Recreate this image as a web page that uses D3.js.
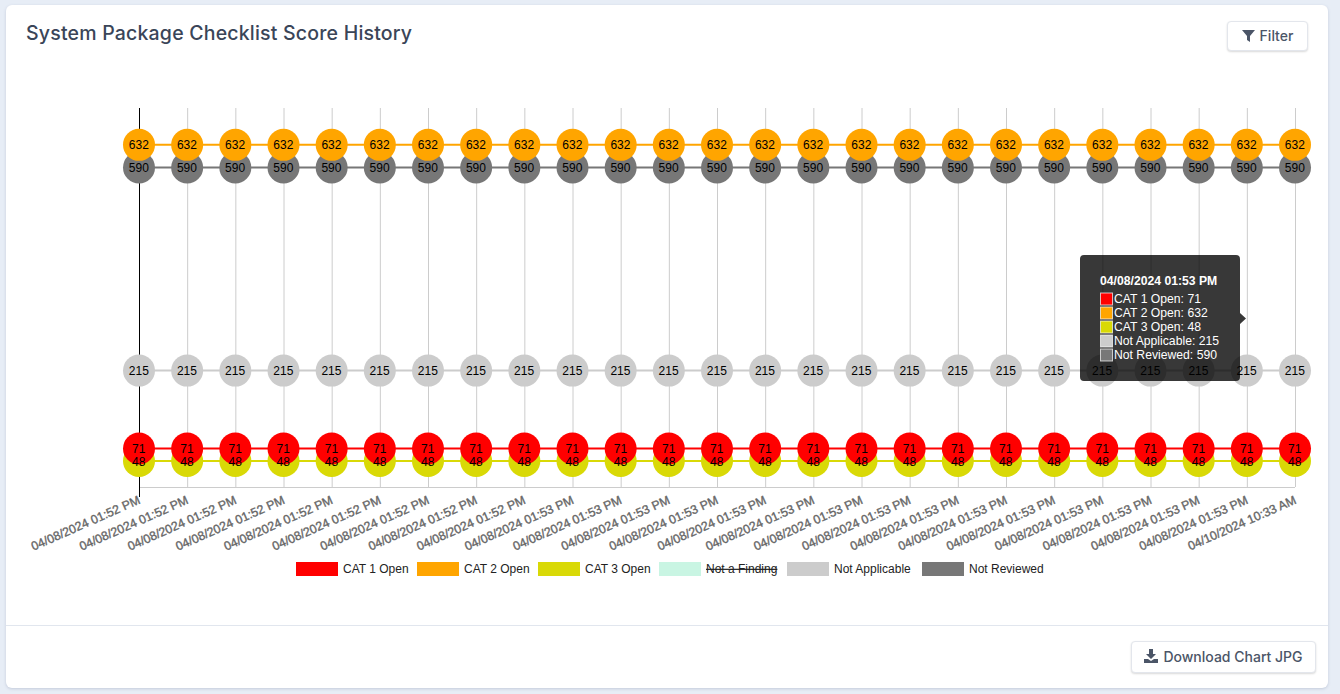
<!DOCTYPE html>
<html>
<head>
<meta charset="utf-8">
<script src="https://cdn.jsdelivr.net/npm/d3@7"></script>
<style>
html, body { margin: 0; padding: 0; background: #e7edf6; overflow: hidden; }
body { width: 1340px; height: 694px; position: relative; }
#card { position: absolute; left: 6px; top: 5px; width: 1322px; height: 683px; background: #fff; border-radius: 6px; box-shadow: 0 1px 3px rgba(90,105,140,.25); }
#title { position: absolute; left: 26px; top: 21px; font: 500 19.5px Inter, sans-serif; letter-spacing: .2px; color: #3a4558; white-space: nowrap; }
.btn { position: absolute; box-sizing: border-box; background: #fff; border: 1px solid #e3e6ec; border-radius: 4px; padding-bottom: 2px;
       box-shadow: 0 1px 2px rgba(0,0,0,.15); font: 500 14px Inter, sans-serif; color: #4b5567; display: flex; align-items: center; justify-content: center; gap: 5px; }
#filter { left: 1227px; top: 21px; width: 81px; height: 30px; }
#download { left: 1131px; top: 641px; width: 185px; height: 32px; }
#rule { position: absolute; left: 6px; top: 625px; width: 1322px; height: 1px; background: #e1e6ee; }
svg#chart { position: absolute; left: 0; top: 0; }
</style>
</head>
<body>
<div id="card"></div>
<div id="title">System Package Checklist Score History</div>
<div class="btn" id="filter"><svg width="13" height="13" viewBox="0 0 13 13"><path d="M0 1h13L8 7v6L5 11V7z" fill="#4b5567"/></svg>Filter</div>
<div id="rule"></div>
<div class="btn" id="download"><svg width="14" height="14" viewBox="0 0 14 14"><path d="M5 0h4v5h3L7 10 2 5h3zM0 10h4l3 2 3-2h4v4H0z" fill="#4b5567"/></svg>Download Chart JPG</div>
<svg id="chart" width="1340" height="694"></svg>
<script>
let dates = [
  "04/08/2024 01:52 PM","04/08/2024 01:52 PM","04/08/2024 01:52 PM","04/08/2024 01:52 PM",
  "04/08/2024 01:52 PM","04/08/2024 01:52 PM","04/08/2024 01:52 PM","04/08/2024 01:52 PM",
  "04/08/2024 01:52 PM","04/08/2024 01:53 PM","04/08/2024 01:53 PM","04/08/2024 01:53 PM",
  "04/08/2024 01:53 PM","04/08/2024 01:53 PM","04/08/2024 01:53 PM","04/08/2024 01:53 PM",
  "04/08/2024 01:53 PM","04/08/2024 01:53 PM","04/08/2024 01:53 PM","04/08/2024 01:53 PM",
  "04/08/2024 01:53 PM","04/08/2024 01:53 PM","04/08/2024 01:53 PM","04/08/2024 01:53 PM",
  "04/10/2024 10:33 AM"
]
let cat1 = [71,71,71,71,71,71,71,71,71,71,71,71,71,71,71,71,71,71,71,71,71,71,71,71,71]
let cat2 = [632,632,632,632,632,632,632,632,632,632,632,632,632,632,632,632,632,632,632,632,632,632,632,632,632]
let cat3 = [48,48,48,48,48,48,48,48,48,48,48,48,48,48,48,48,48,48,48,48,48,48,48,48,48]
let notApplicable = [215,215,215,215,215,215,215,215,215,215,215,215,215,215,215,215,215,215,215,215,215,215,215,215,215]
let notReviewed = [590,590,590,590,590,590,590,590,590,590,590,590,590,590,590,590,590,590,590,590,590,590,590,590,590]

let legendNames = ["CAT 1 Open","CAT 2 Open","CAT 3 Open","Not a Finding","Not Applicable","Not Reviewed"]
let legendColors = ["#ff0000","#ffa500","#d9d906","#c9f5e3","#cccccc","#777777"]
let legendX = [296,417,538,659,787,922]

let tooltipIndex = 23
let crosshairIndex = 0

let series = [
  {name: "CAT 1 Open", values: cat1, color: "#ff0000"},
  {name: "CAT 2 Open", values: cat2, color: "#ffa500"},
  {name: "CAT 3 Open", values: cat3, color: "#d9d906"},
  {name: "Not Applicable", values: notApplicable, color: "#cccccc"},
  {name: "Not Reviewed", values: notReviewed, color: "#777777"}
]

let svg = d3.select('#chart')
let chartFont = '"Liberation Sans", Arial, sans-serif'

let xScale = d3.scalePoint().domain(d3.range(dates.length)).range([139, 1295])
let yScale = d3.scaleLinear().domain([0, 700]).range([487, 108])

// grid lines and bottom axis
let drawGrid = () => {
  let xAxis = d3.axisBottom(xScale).tickSize(-(487 - 108)).tickFormat('')
  let g = svg.append('g').attr('transform', 'translate(0,487)').call(xAxis)
  g.select('.domain').remove()
  g.selectAll('line').attr('stroke', '#cccccc')
  svg.append('line').attr('x1', xScale(0)).attr('x2', xScale(dates.length - 1))
    .attr('y1', 487.5).attr('y2', 487.5).attr('stroke', '#cccccc')
  svg.append('line').attr('x1', xScale(crosshairIndex) + 0.5).attr('x2', xScale(crosshairIndex) + 0.5)
    .attr('y1', yScale(700)).attr('y2', 497).attr('stroke', '#000')
}

let drawSeries = () => {
  let line = d3.line().x((d, i) => xScale(i)).y(d => yScale(d))
  // last series sits at the bottom, first on top
  series.slice().reverse().forEach(s => {
    let g = svg.append('g')
    g.append('path').attr('d', line(s.values)).attr('fill', 'none')
      .attr('stroke', s.color).attr('stroke-width', 2)
    g.selectAll('circle').data(s.values).enter().append('circle')
      .attr('cx', (d, i) => xScale(i)).attr('cy', d => yScale(d)).attr('r', 16)
      .attr('fill', s.color)
  })
  series.forEach(s => {
    svg.append('g').selectAll('text').data(s.values).enter().append('text')
      .attr('x', (d, i) => xScale(i) - 0.2).attr('y', d => yScale(d) + 4.5)
      .attr('text-anchor', 'middle')
      .style('font', '12px ' + chartFont).attr('fill', '#000')
      .text(d => d)
  })
}

let drawLabels = () => {
  svg.append('g').selectAll('text').data(dates).enter().append('text')
    .attr('text-anchor', 'end')
    .attr('transform', (d, i) => 'translate(' + (xScale(i) + 2) + ',503) rotate(-24)')
    .style('font', '12.3px ' + chartFont)
    .attr('fill', '#666').attr('stroke', '#666').attr('stroke-width', 0.35)
    .text(d => d)
}

let drawLegend = () => {
  let g = svg.append('g')
  legendNames.forEach((name, i) => {
    g.append('rect').attr('x', legendX[i]).attr('y', 562).attr('width', 42).attr('height', 14).attr('fill', legendColors[i])
    let t = g.append('text').attr('x', legendX[i] + 47).attr('y', 573)
      .style('font', '12px ' + chartFont).attr('fill', '#222').text(name)
    if (name == "Not a Finding") t.style('text-decoration', 'line-through')
  })
}

let drawTooltip = () => {
  let g = svg.append('g').attr('transform', 'translate(1080,255)')
  g.append('path').attr('d', 'M4 0H156a4 4 0 0 1 4 4V58l6 5.5-6 5.5V122a4 4 0 0 1-4 4H4a4 4 0 0 1-4-4V4a4 4 0 0 1 4-4z')
    .attr('fill', '#000').attr('fill-opacity', 0.78)
  g.append('text').attr('x', 20).attr('y', 30).attr('fill', '#fff')
    .style('font', 'bold 12.2px ' + chartFont).text(dates[tooltipIndex])
  series.forEach((s, i) => {
    let y = 37.5 + i * 14
    g.append('rect').attr('x', 20.5).attr('y', y + .5).attr('width', 12).attr('height', 12)
      .attr('fill', s.color).attr('stroke', '#fff').attr('stroke-opacity', .7)
    g.append('text').attr('x', 34).attr('y', y + 10.5).attr('fill', '#fff')
      .style('font', '12.2px ' + chartFont).text(s.name + ': ' + s.values[tooltipIndex])
  })
}

drawGrid()
drawSeries()
drawLabels()
drawLegend()
drawTooltip()
</script>
</body>
</html>
